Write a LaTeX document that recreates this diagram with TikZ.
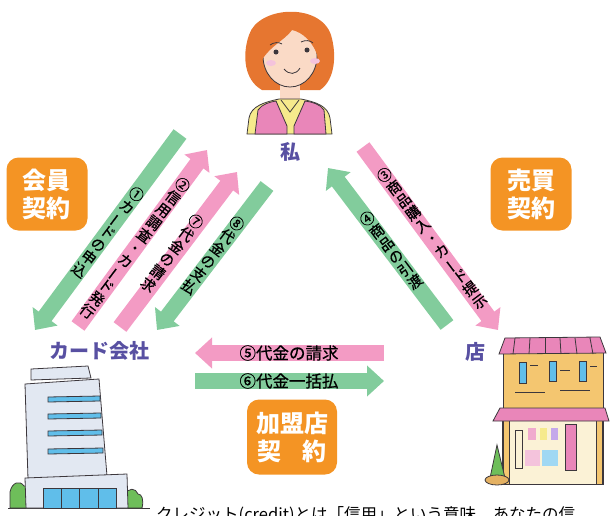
\documentclass[tikz,border=0pt]{standalone}
\usepackage{fontspec}
\setmainfont{Noto Sans CJK JP}
\newfontfamily\arrowfont[FakeBold=0.7]{Noto Sans CJK JP}
\usetikzlibrary{arrows.meta}
\definecolor{arrowgreen}{RGB}{130,204,156}
\definecolor{arrowpink}{RGB}{243,155,196}
\definecolor{boxorange}{RGB}{244,148,36}
\definecolor{labelblue}{RGB}{88,80,162}
\definecolor{hair}{RGB}{230,118,48}
\definecolor{skin}{RGB}{250,218,198}
\definecolor{shirt}{RGB}{246,234,140}
\definecolor{vest}{RGB}{233,134,185}
\definecolor{wall}{RGB}{226,232,242}
\definecolor{glass}{RGB}{96,190,234}
\definecolor{facade}{RGB}{244,198,112}
\definecolor{shopfront}{RGB}{251,242,214}
\definecolor{leaf}{RGB}{110,190,90}
\definecolor{inkline}{RGB}{60,55,60}

\newcommand{\vbar}{\rotatebox[origin=c]{90}{ー}}

\begin{document}
\begin{tikzpicture}[x=1pt,y=-1pt,
	green_arrow/.style={draw=arrowgreen,line width=16pt,-{Triangle[width=30pt,length=17pt]}},
	pink_arrow/.style={draw=arrowpink,line width=16pt,-{Triangle[width=30pt,length=17pt]}},
	arrow_text/.style={font=\arrowfont\fontsize{14.5}{15.8}\selectfont,align=center,inner sep=0pt},
	flat_text/.style={font=\arrowfont\fontsize{16.5}{18}\selectfont,inner sep=0pt},
	contract_box/.style={fill=boxorange,rounded corners=12pt,text=white,font=\fontsize{24}{28}\selectfont\bfseries,align=center,minimum width=81pt,minimum height=73pt,inner sep=0pt},
	party/.style={text=labelblue,font=\fontsize{20}{22}\selectfont\bfseries,inner sep=0pt},
	ink/.style={draw=inkline,line width=0.8pt}]
	
	\useasboundingbox (0,0) rectangle (611,515);
	
	\fill[hair] (262,90) .. controls (244,80) and (242,55) .. (249,35) .. controls (258,6) and (320,2) .. (331,35) .. controls (337,55) and (335,80) .. (320,90) -- cycle;
	\fill[skin] (280,78) rectangle (300,104);
	\filldraw[fill=shirt,ink] (247,134) -- (249,118) .. controls (251,106) and (265,102) .. (279,99) -- (301,99) .. controls (316,102) and (328,106) .. (330,118) -- (332,134) -- cycle;
	\filldraw[fill=vest,ink] (255,134) -- (258,110) .. controls (262,104) and (270,102) .. (276,101) -- (287,126) -- (287,134) -- cycle;
	\filldraw[fill=vest,ink] (294,134) -- (294,126) -- (305,101) .. controls (312,102) and (320,104) .. (324,110) -- (326,134) -- cycle;
	\draw[ink] (281,100) -- (290,112) -- (299,100);
	\filldraw[fill=skin,ink] (290,56) ellipse (27 and 31);
	\fill[hair] (262,60) .. controls (256,25) and (285,12) .. (300,16) .. controls (320,18) and (326,40) .. (318,58) .. controls (314,42) and (302,32) .. (292,30) .. controls (285,40) and (270,46) .. (262,60) -- cycle;
	\fill[inkline] (276,52) circle (2.5);
	\fill[inkline] (307,50) circle (2.5);
	\draw[ink] (270,45) .. controls (274,42) and (279,42) .. (282,44);
	\draw[ink] (301,42) .. controls (305,40) and (310,40) .. (313,43);
	\fill[vest!50] (271,63) ellipse (5 and 3);
	\fill[vest!50] (315,61) ellipse (5 and 3);
	\draw[ink] (284,69) .. controls (289,75) and (296,75) .. (300,68);
	
	\draw[line width=1pt,inkline] (8,508) -- (150,508);
	\filldraw[fill=leaf,ink] (10,508) -- (10,492) .. controls (12,482) and (20,480) .. (24,486) .. controls (28,484) and (32,490) .. (30,508) -- cycle;
	\filldraw[fill=leaf,ink] (124,508) -- (125,495) .. controls (128,487) and (136,488) .. (138,494) .. controls (142,494) and (144,500) .. (142,508) -- cycle;
	\filldraw[fill=wall,ink] (31,369) -- (88,366) -- (91,378) -- (31,380) -- cycle;
	\filldraw[fill=wall,ink] (25,384) -- (99,379) -- (107,476) -- (28,479) -- cycle;
	\filldraw[fill=glass,ink] (48,397) -- (100,396) -- (100,401) -- (48,402) -- cycle;
	\filldraw[fill=glass,ink] (48,414) -- (101,413) -- (101,418) -- (48,419) -- cycle;
	\filldraw[fill=glass,ink] (48,431) -- (102,430) -- (102,435) -- (48,436) -- cycle;
	\filldraw[fill=glass,ink] (48,449) -- (103,448) -- (103,453) -- (48,454) -- cycle;
	\filldraw[fill=wall,ink] (25,478) -- (127,474) -- (128,508) -- (26,508) -- cycle;
	\filldraw[fill=glass,ink] (43,488) rectangle (116,508);
	\draw[ink] (61,488) -- (61,508);
	\draw[ink] (79,488) -- (79,508);
	\draw[ink] (98,488) -- (98,508);
	
	\filldraw[fill=shopfront,ink] (502,420) rectangle (603,484);
	\filldraw[fill=facade,ink] (503,420) rectangle (509,484);
	\filldraw[fill=facade,ink] (596,420) rectangle (602,484);
	\fill[vest!70] (528,428) rectangle (536,440);
	\fill[shirt] (540,428) rectangle (547,440);
	\fill[vest!60!blue!50] (551,428) rectangle (558,440);
	\filldraw[fill=vest,ink] (565,424) rectangle (576,470);
	\fill[vest!50] (525,450) rectangle (540,466);
	\fill[glass!60] (542,450) rectangle (558,466);
	\draw[ink] (515,430) rectangle (522,468);
	\filldraw[fill=facade,ink] (503,352) rectangle (603,410);
	\filldraw[fill=glass,ink] (519,362) rectangle (526,383);
	\filldraw[fill=glass,ink] (549,361) rectangle (556,381);
	\filldraw[fill=glass,ink] (579,361) rectangle (586,381);
	\draw[ink] (530,365) -- (538,365);
	\draw[ink] (560,370) -- (570,370);
	\draw[ink] (590,366) -- (597,366);
	\draw[ink] (515,392) -- (545,392);
	\draw[ink] (560,390) -- (590,390);
	\filldraw[fill=vest,ink] (499,354) -- (505,338) -- (600,337) -- (606,353) -- cycle;
	\draw[ink] (515,338) -- (513,354);
	\draw[ink] (530,338) -- (529,354);
	\draw[ink] (545,338) -- (545,354);
	\draw[ink] (560,338) -- (561,354);
	\draw[ink] (575,338) -- (577,354);
	\draw[ink] (590,338) -- (593,354);
	\filldraw[fill=vest,ink] (493,421) -- (500,408) -- (605,408) -- (609,421) -- cycle;
	\filldraw[fill=leaf,ink] (490,478) -- (497,445) -- (505,478) -- cycle;
	\filldraw[fill=facade!70!brown,ink] (497,480) ellipse (12 and 5);
	
	\node[party] (me) at (290,152) {私};
	\node[party] (card) at (99,351) {カード会社};
	\node[party] (shop) at (475,352) {店};
	
	\node[contract_box] (member) at (47,194) {会員\\契約};
	\node[contract_box] (sale) at (531,194) {売買\\契約};
	\node[contract_box,minimum width=90pt,minimum height=75pt] (merchant) at (292,437) {加盟店\\契\hspace{0.9em}約};
	
	\coordinate (a1s) at (180,134);
	\coordinate (a1e) at (35,330);
	\coordinate (a2s) at (78,326);
	\coordinate (a2e) at (207,150);
	\coordinate (a7s) at (120,327);
	\coordinate (a7e) at (237,172);
	\coordinate (a8s) at (267,186);
	\coordinate (a8e) at (157,330);
	\coordinate (a3s) at (363,147);
	\coordinate (a3e) at (498,330);
	\coordinate (a4s) at (447,325);
	\coordinate (a4e) at (328,168);
	\coordinate (a5s) at (384,353);
	\coordinate (a5e) at (195,353);
	\coordinate (a6s) at (195,381);
	\coordinate (a6e) at (384,381);
	
	\draw[green_arrow] (a1s) -- (a1e);
	\draw[pink_arrow] (a2s) -- (a2e);
	\draw[pink_arrow] (a7s) -- (a7e);
	\draw[green_arrow] (a8s) -- (a8e);
	\draw[pink_arrow] (a3s) -- (a3e);
	\draw[green_arrow] (a4s) -- (a4e);
	\draw[pink_arrow] (a5s) -- (a5e);
	\draw[green_arrow] (a6s) -- (a6e);
	
	\node[arrow_text,rotate=-37] (t1) at (108,232) {①\\カ\\\vbar\\ド\\の\\申\\込};
	\node[arrow_text,rotate=-37] (t2) at (135,248) {②\\信\\用\\調\\査\\・\\カ\\\vbar\\ド\\発\\行};
	\node[arrow_text,rotate=-37] (t7) at (172,253) {⑦\\代\\金\\の\\請\\求};
	\node[arrow_text,rotate=-37] (t8) at (213,255) {⑧\\代\\金\\の\\支\\払};
	\node[arrow_text,rotate=37] (t3) at (432,238) {③\\商\\品\\購\\入\\・\\カ\\\vbar\\ド\\提\\示};
	\node[arrow_text,rotate=37] (t4) at (391,250) {④\\商\\品\\の\\引\\渡};
	\node[flat_text] (t5) at (289,353) {⑤代金の請求};
	\node[flat_text] (t6) at (289,381) {⑥代金一括払};
	
	\node[anchor=north west,font=\fontsize{16.5}{18}\selectfont,inner sep=0pt] (note) at (156,506) {クレジット(credit)とは「信用」という意味。あなたの信};
\end{tikzpicture}
\end{document}
